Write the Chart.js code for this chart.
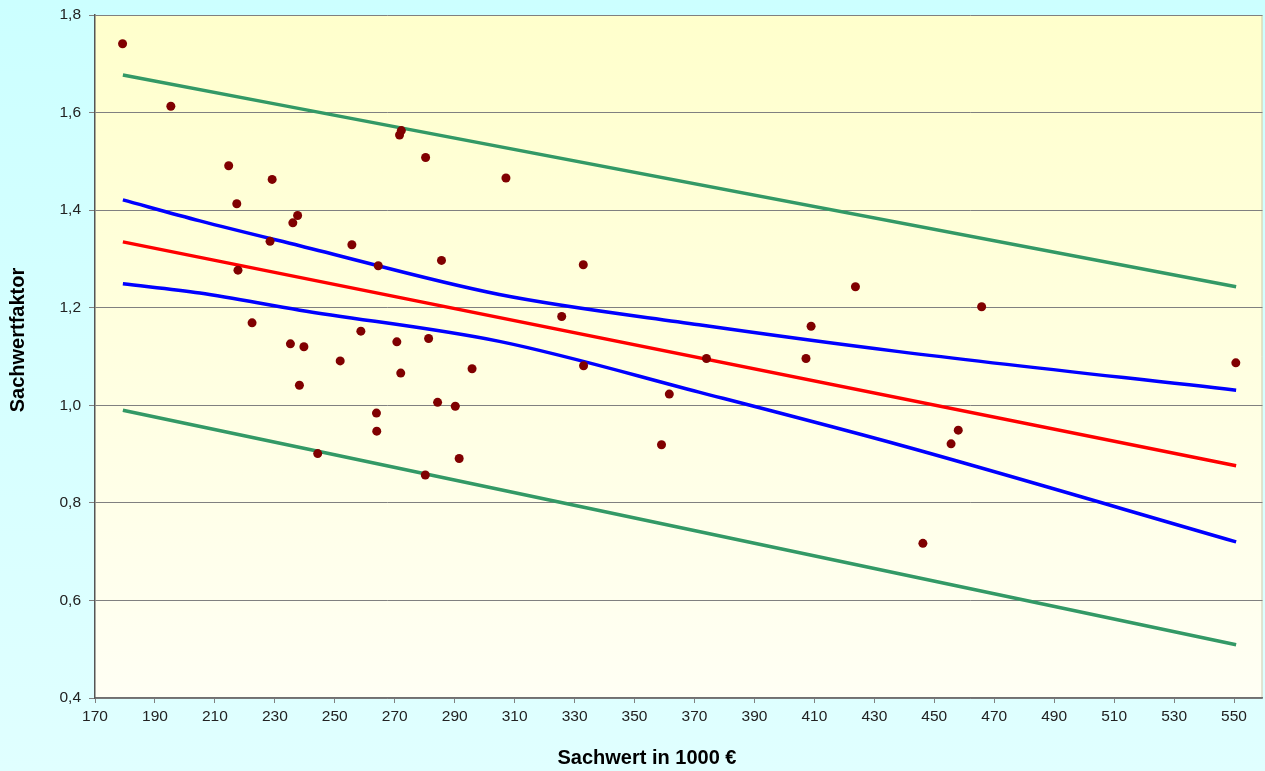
<!DOCTYPE html>
<html>
<head>
<meta charset="utf-8">
<script src="https://cdn.jsdelivr.net/npm/chart.js@4/dist/chart.umd.min.js"></script>
<style>
  html, body { margin: 0; padding: 0; overflow: hidden; background: #ccffff; }
  canvas { display: block; }
</style>
</head>
<body>
<canvas id="sachwert" width="1267" height="771"></canvas>
<script>
// Kaufpreise / Sachwerte (x in 1000 €) und Sachwertfaktoren
const sachwert = [179.2, 195.3, 214.6, 229.1, 217.3, 237.6, 236.0, 228.4, 255.7, 264.5,
  285.6, 217.7, 222.4, 258.7, 235.2, 239.7, 270.7, 281.3, 251.8, 272.0,
  295.8, 238.2, 284.3, 290.2, 263.9, 264.0, 244.3, 291.5, 280.2, 271.6,
  272.2, 280.3, 307.1, 332.9, 325.7, 333.0, 359.0, 361.6, 374.0, 407.2,
  408.9, 423.7, 446.2, 455.6, 458.0, 465.8, 550.6]
const faktor = [1.741, 1.613, 1.491, 1.463, 1.413, 1.389, 1.374, 1.336, 1.329, 1.286,
  1.297, 1.277, 1.169, 1.152, 1.126, 1.120, 1.130, 1.137, 1.091, 1.066,
  1.075, 1.041, 1.006, 0.998, 0.984, 0.947, 0.901, 0.891, 0.857, 1.554,
  1.563, 1.508, 1.466, 1.288, 1.182, 1.081, 0.919, 1.023, 1.096, 1.096,
  1.162, 1.243, 0.717, 0.921, 0.949, 1.202, 1.087]

// Regressionsgerade und Prognoseintervall (Endpunkte)
const lineX = [179.3, 550.7]
const regression = [1.335, 0.876]
const prognoseOben = [1.677, 1.243]
const prognoseUnten = [0.990, 0.509]

// Konfidenzintervall (gekrümmt)
const konfX = [179.3, 205.0, 238.3, 304.9, 371.5, 438.2, 550.7]
const konfOben = [1.421, 1.378, 1.327, 1.227, 1.165, 1.110, 1.031]
const konfUnten = [1.249, 1.230, 1.195, 1.131, 1.027, 0.919, 0.720]

const xTicks = [170, 190, 210, 230, 250, 270, 290, 310, 330, 350, 370, 390, 410, 430, 450, 470, 490, 510, 530, 550]
const yTicks = [0.4, 0.6, 0.8, 1.0, 1.2, 1.4, 1.6, 1.8]

const pairs = (xs, ys) => xs.map((x, i) => ({ x: x, y: ys[i] }))

const backgrounds = {
  id: 'backgrounds',
  beforeDraw(chart) {
    const { ctx, width, height, chartArea } = chart
    ctx.save()
    let g = ctx.createLinearGradient(0, 0, 0, height)
    g.addColorStop(0, '#ccffff')
    g.addColorStop(1, '#e0ffff')
    ctx.fillStyle = g
    ctx.fillRect(0, 0, width, height)
    g = ctx.createLinearGradient(0, chartArea.top, 0, chartArea.bottom)
    g.addColorStop(0, '#ffffcc')
    g.addColorStop(1, '#fffff4')
    ctx.fillStyle = g
    ctx.fillRect(chartArea.left, chartArea.top, chartArea.right - chartArea.left, chartArea.bottom - chartArea.top)
    ctx.strokeStyle = '#c8c8b0'
    ctx.lineWidth = 1
    ctx.beginPath()
    ctx.moveTo(chartArea.right - 0.5, chartArea.top)
    ctx.lineTo(chartArea.right - 0.5, chartArea.bottom)
    ctx.stroke()
    ctx.restore()
  }
}

// Achsentitel wie im Original (leicht versetzt zur Mitte der Zeichenfläche)
const axisTitles = {
  id: 'axisTitles',
  afterDraw(chart) {
    const { ctx } = chart
    ctx.save()
    ctx.fillStyle = '#000'
    ctx.font = 'bold 20px "Liberation Sans", Arial, sans-serif'
    ctx.textAlign = 'center'
    ctx.textBaseline = 'middle'
    ctx.fillText('Sachwert in 1000 €', 647, 758)
    ctx.translate(18, 340)
    ctx.rotate(-Math.PI / 2)
    ctx.fillText('Sachwertfaktor', 0, 0)
    ctx.restore()
  }
}

const lineStyle = (color) => ({
  showLine: true,
  borderColor: color,
  borderWidth: 3.5,
  pointRadius: 0,
  pointHoverRadius: 0,
  tension: 0.4,
  cubicInterpolationMode: 'monotone',
  fill: false
})

document.addEventListener('DOMContentLoaded', () => {
  const ctx = document.getElementById('sachwert')
  new Chart(ctx, {
    type: 'scatter',
    data: {
      datasets: [
        {
          label: 'Kauffälle',
          data: pairs(sachwert, faktor),
          backgroundColor: '#800000',
          borderColor: '#800000',
          pointRadius: 4.5,
          pointBorderWidth: 0
        },
        Object.assign({ label: 'Regression', data: pairs(lineX, regression) }, lineStyle('#ff0000')),
        Object.assign({ label: 'Konfidenz oben', data: pairs(konfX, konfOben) }, lineStyle('#0000ff')),
        Object.assign({ label: 'Konfidenz unten', data: pairs(konfX, konfUnten) }, lineStyle('#0000ff')),
        Object.assign({ label: 'Prognose oben', data: pairs(lineX, prognoseOben) }, lineStyle('#339966')),
        Object.assign({ label: 'Prognose unten', data: pairs(lineX, prognoseUnten) }, lineStyle('#339966'))
      ]
    },
    options: {
      responsive: false,
      animation: false,
      layout: { padding: { top: 15, right: 0, left: 0, bottom: 0 } },
      plugins: {
        legend: { display: false },
        tooltip: { enabled: false }
      },
      scales: {
        x: {
          type: 'linear',
          min: 170,
          max: 559.5,
          afterBuildTicks: (scale) => { scale.ticks = xTicks.map(v => ({ value: v })) },
          afterFit: (scale) => {
            scale.height = 73
            scale.paddingLeft = 0
            scale.paddingRight = 0
          },
          ticks: {
            color: '#222',
            font: { size: 15.5, family: '"Liberation Sans", Arial, sans-serif' },
            padding: 4,
            maxRotation: 0,
            autoSkip: false
          },
          grid: { drawOnChartArea: false, color: '#808080', tickLength: 5, tickColor: '#808080' },
          border: { color: '#707070', width: 1.5 }
        },
        y: {
          min: 0.4,
          max: 1.8,
          afterBuildTicks: (scale) => { scale.ticks = yTicks.map(v => ({ value: v })) },
          afterFit: (scale) => {
            scale.width = 95
            scale.paddingTop = 0
            scale.paddingBottom = 0
          },
          ticks: {
            color: '#222',
            font: { size: 15.5, family: '"Liberation Sans", Arial, sans-serif' },
            padding: 8,
            callback: (v) => v.toFixed(1).replace('.', ',')
          },
          grid: { color: '#808080', lineWidth: 1, tickLength: 6, tickColor: '#808080' },
          border: { color: '#555', width: 1.5 }
        }
      }
    },
    plugins: [backgrounds, axisTitles]
  })
})
</script>
</body>
</html>
